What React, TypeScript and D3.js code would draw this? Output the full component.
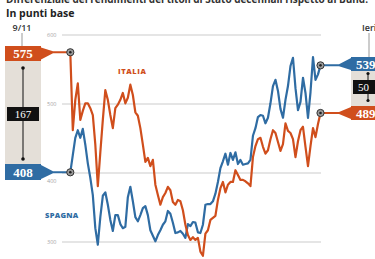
import React from 'react';
import * as d3 from 'd3';

// spread in basis points vs the Bund, trading days from 9/11 to "ieri"
const italia = [
  575, 462, 506, 530, 477, 490, 501, 501, 494, 484,
  441, 381, 430, 477, 520, 506, 484, 465, 494, 499,
  506, 516, 501, 509, 528, 513, 488, 483, 465, 441,
  416, 422, 410, 419, 383, 368, 354, 365, 371, 380,
  375, 358, 354, 361, 359, 346, 325, 310, 303, 307,
  303, 306, 286, 280, 312, 317, 332, 335, 338, 361,
  378, 387, 372, 383, 387, 387, 404, 397, 390, 390,
  388, 385, 381, 423, 439, 449, 451, 438, 428, 433,
  449, 462, 458, 445, 432, 442, 472, 461, 458, 449,
  423, 446, 462, 467, 438, 410, 439, 465, 452, 471,
  487,
];

const spagna = [
  401, 426, 451, 462, 451, 464, 441, 414, 393, 368,
  320, 296, 336, 367, 372, 354, 332, 316, 339, 339,
  326, 320, 322, 365, 380, 359, 336, 330, 339, 349,
  352, 339, 317, 309, 301, 310, 317, 325, 330, 345,
  341, 328, 313, 314, 316, 312, 306, 326, 323, 329,
  328, 314, 313, 325, 354, 355, 355, 359, 370, 387,
  407, 417, 428, 412, 429, 419, 430, 413, 419, 412,
  413, 414, 419, 454, 465, 481, 484, 483, 472, 480,
  501, 526, 535, 519, 493, 480, 506, 526, 555, 567,
  523, 491, 503, 538, 516, 480, 517, 568, 535, 543,
  556,
];

const gridValues = [300, 400, 500, 600];
const startLabel = '9/11';
const endLabel = 'Ieri';
const startValues = { italia: '575', spagna: '408', gap: '167' };
const endValues = { italia: '489', spagna: '539', gap: '50' };

const ORANGE = '#d04e1c';
const BLUE = '#2f6ca3';
const BEIGE = '#e4dfd8';
const serif = '"Liberation Serif", "DejaVu Serif", serif';
const sans = '"Open Sans", "Noto Sans", sans-serif';

export default function App() {
  const x = d3.scaleLinear().domain([0, italia.length - 1]).range([70.3, 320.5]);
  const y = d3.scaleLinear().domain([300, 600]).range([242, 35]);

  const line = d3.line<number>()
    .x((d, i) => x(i))
    .y(d => y(d));

  const last = italia.length - 1;
  const x0 = x(0);
  const x1 = x(last);
  const yI0 = y(italia[0]);
  const yS0 = y(spagna[0]);
  const yI1 = y(italia[last]);
  const yS1 = y(spagna[last]);

  // tapered connector from a value box to the line's end point
  const connector = (bx: number, by0: number, by1: number, px: number, py: number) => {
    const dir = px > bx ? 1 : -1;
    const mx = bx + dir * 12;
    return `M${bx},${by0} L${mx},${py - 1} L${px},${py - 1} L${px},${py + 1} L${mx},${py + 1} L${bx},${by1} Z`;
  };

  const marker = (cx: number, cy: number) => (
    <g>
      <circle cx={cx} cy={cy} r={3.6} fill="#9b9b9b" stroke="#333" strokeWidth={1} />
      <circle cx={cx} cy={cy} r={1.3} fill="#222" />
    </g>
  );

  return (
    <svg width={375} height={259} style={{ position: 'absolute', left: 0, top: 0, background: '#fff' }}>
      <text x={6} y={3} fontFamily={sans} fontWeight={700} fontSize={10.5} fill="#333"
        textLength={362} lengthAdjust="spacingAndGlyphs">
        Differenziale dei rendimenti dei titoli di Stato decennali rispetto al Bund.
      </text>
      <text x={6} y={16.5} fontFamily={sans} fontWeight={700} fontSize={10.5} fill="#222">In punti base</text>

      {gridValues.map(v => (
        <g key={v}>
          <line x1={62} x2={321} y1={y(v)} y2={y(v)} stroke="#dcdcdc" strokeWidth={1.4} />
          <text x={47} y={y(v) + (v === 400 ? 10 : 2)} fontFamily={sans} fontSize={5.5} fill="#a5a5a5">{v}</text>
        </g>
      ))}

      {/* left annotation */}
      <text x={22} y={31} textAnchor="middle" fontFamily={sans} fontWeight={600} fontSize={9} fill="#333">{startLabel}</text>
      <line x1={22} x2={22} y1={33} y2={46} stroke="#999" strokeWidth={1} />
      <rect x={5} y={60} width={36} height={104} fill={BEIGE} />
      <line x1={23} x2={23} y1={68} y2={159} stroke="#111" strokeWidth={1} />
      <circle cx={23} cy={68} r={1.8} fill="#111" />
      <circle cx={23} cy={159} r={1.8} fill="#111" />
      <rect x={7} y={107} width={32} height={14} fill="#111" />
      <text x={23} y={118} textAnchor="middle" fontFamily={serif} fontSize={11} fill="#fff">{startValues.gap}</text>

      <path d={connector(41, 47.5, 59.5, x0, yI0)} fill={ORANGE} />
      <rect x={5} y={46} width={36} height={15} fill={ORANGE} />
      <text x={23} y={58} textAnchor="middle" fontFamily={serif} fontWeight={700} fontSize={13} fill="#fff">{startValues.italia}</text>

      <path d={connector(41, 165, 179, x0, yS0)} fill={BLUE} />
      <rect x={5} y={164} width={36} height={16} fill={BLUE} />
      <text x={23} y={177} textAnchor="middle" fontFamily={serif} fontWeight={700} fontSize={13} fill="#fff">{startValues.spagna}</text>

      {/* right annotation */}
      <text x={362} y={31} fontFamily={sans} fontWeight={600} fontSize={9} fill="#333">{endLabel}</text>
      <line x1={369} x2={369} y1={33} y2={57} stroke="#999" strokeWidth={1} />
      <rect x={351} y={71} width={30} height={35} fill={BEIGE} />
      <line x1={368} x2={368} y1={73} y2={101} stroke="#111" strokeWidth={1} />
      <circle cx={368} cy={73.5} r={1.6} fill="#111" />
      <circle cx={368} cy={100.5} r={1.6} fill="#111" />
      <rect x={353} y={80} width={30} height={14} fill="#111" />
      <text x={358} y={91} fontFamily={serif} fontSize={11} fill="#fff">{endValues.gap}</text>

      <path d={connector(351, 58, 70, x1, yS1)} fill={BLUE} />
      <rect x={351} y={57} width={30} height={14} fill={BLUE} />
      <text x={356} y={69} fontFamily={serif} fontWeight={700} fontSize={13} fill="#fff">{endValues.spagna}</text>

      <path d={connector(351, 107, 119, x1, yI1)} fill={ORANGE} />
      <rect x={351} y={106} width={30} height={14} fill={ORANGE} />
      <text x={356} y={118} fontFamily={serif} fontWeight={700} fontSize={13} fill="#fff">{endValues.italia}</text>

      {/* series */}
      <path d={line(spagna) ?? ''} fill="none" stroke={BLUE} strokeWidth={2.2} strokeLinejoin="round" />
      <path d={line(italia) ?? ''} fill="none" stroke={ORANGE} strokeWidth={2.2} strokeLinejoin="round" />

      <text x={118} y={73.5} fontFamily={sans} fontWeight={800} fontSize={7.5} fill={ORANGE} letterSpacing={0.6}>ITALIA</text>
      <text x={45} y={218} fontFamily={sans} fontWeight={800} fontSize={7.5} fill={BLUE} letterSpacing={0.3}>SPAGNA</text>

      {marker(x0, yI0)}
      {marker(x0, yS0)}
      {marker(x1, yS1)}
      {marker(x1, yI1)}
    </svg>
  );
}
